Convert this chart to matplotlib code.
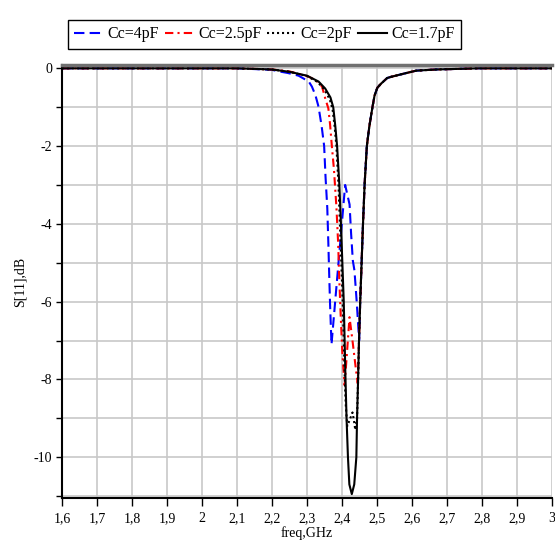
import numpy as np
import matplotlib
matplotlib.use("Agg")
import matplotlib.pyplot as plt
from matplotlib.ticker import MultipleLocator, FixedLocator

# S11 curves (freq in GHz, value in dB)
f_4pF = [1.6, 2.10, 2.20, 2.22, 2.245, 2.276, 2.305, 2.314, 2.324, 2.333, 2.342, 2.349,
         2.353, 2.358, 2.361, 2.3636, 2.366, 2.370, 2.409, 2.4216, 2.426, 2.431,
         2.4356, 2.442, 2.449, 2.452, 2.456, 2.460, 2.4645, 2.471, 2.478, 2.487,
         2.493, 2.501, 2.511, 2.529, 2.54, 2.58, 2.612, 2.67, 2.79, 3.0]
s_4pF = [0, 0, -0.04, -0.08, -0.12, -0.19, -0.34, -0.47, -0.69, -0.99, -1.5, -2.0,
         -2.8, -3.6, -4.5, -5.36, -6.1, -7.1, -3.0, -3.5, -4.25, -4.95,
         -5.2, -6.0, -7.0, -6.0, -5.0, -4.0, -3.0, -2.0, -1.5, -1.0,
         -0.7, -0.5, -0.4, -0.25, -0.22, -0.13, -0.06, -0.03, 0, 0]

f_2p5pF = [1.6, 2.10, 2.20, 2.25, 2.30, 2.325, 2.343, 2.352, 2.361, 2.366, 2.371, 2.377,
           2.384, 2.389, 2.392, 2.396, 2.401, 2.4075, 2.4215, 2.431, 2.44, 2.445,
           2.4486, 2.452, 2.456, 2.460, 2.4645, 2.471, 2.478, 2.487, 2.493, 2.501,
           2.511, 2.529, 2.54, 2.58, 2.612, 2.67, 2.79, 3.0]
s_2p5pF = [0, 0, -0.03, -0.08, -0.2, -0.3, -0.47, -0.77, -1.03, -1.45, -2.0, -2.6,
           -3.56, -4.5, -5.36, -6.3, -7.33, -8.15, -6.4, -7.08, -7.76, -8.1,
           -7.0, -6.0, -5.0, -4.0, -3.0, -2.0, -1.5, -1.0, -0.7, -0.5,
           -0.4, -0.25, -0.22, -0.13, -0.06, -0.03, 0, 0]

f_2pF = [1.6, 2.10, 2.20, 2.25, 2.30, 2.33, 2.35, 2.365, 2.373, 2.379, 2.384, 2.390,
         2.394, 2.398, 2.402, 2.405, 2.408, 2.411, 2.415, 2.4216, 2.430, 2.434,
         2.438, 2.443, 2.446, 2.4486, 2.452, 2.456, 2.460, 2.4645, 2.471, 2.478,
         2.487, 2.493, 2.501, 2.511, 2.529, 2.54, 2.58, 2.612, 2.67, 2.79, 3.0]
s_2pF = [0, 0, -0.03, -0.09, -0.2, -0.35, -0.55, -0.8, -1.05, -1.5, -2.0, -3.0,
         -4.0, -5.0, -6.0, -7.0, -8.0, -8.7, -9.2, -9.05, -8.85, -9.05,
         -9.3, -9.0, -8.0, -7.0, -6.0, -5.0, -4.0, -3.0, -2.0, -1.5,
         -1.0, -0.7, -0.5, -0.4, -0.25, -0.22, -0.13, -0.06, -0.03, 0, 0]

f_1p7pF = [1.6, 2.10, 2.20, 2.25, 2.30, 2.333, 2.352, 2.367, 2.375, 2.381, 2.386, 2.3925,
           2.397, 2.401, 2.405, 2.4075, 2.410, 2.413, 2.417, 2.421, 2.428, 2.435,
           2.441, 2.443, 2.446, 2.4486, 2.452, 2.456, 2.460, 2.4645, 2.471, 2.478,
           2.487, 2.493, 2.501, 2.511, 2.529, 2.54, 2.58, 2.612, 2.67, 2.79, 3.0]
s_1p7pF = [0, 0, -0.03, -0.09, -0.19, -0.34, -0.52, -0.75, -1.0, -1.5, -2.0, -3.0,
           -4.0, -5.0, -6.0, -7.0, -8.0, -9.0, -10.0, -10.7, -10.95, -10.7,
           -10.0, -9.0, -8.0, -7.0, -6.0, -5.0, -4.0, -3.0, -2.0, -1.5,
           -1.0, -0.7, -0.5, -0.4, -0.25, -0.22, -0.13, -0.06, -0.03, 0, 0]

labels = ["Cc=4pF", "Cc=2.5pF", "Cc=2pF", "Cc=1.7pF"]
x_ticks = [1.6, 1.7, 1.8, 1.9, 2.0, 2.1, 2.2, 2.3, 2.4, 2.5, 2.6, 2.7, 2.8, 2.9, 3.0]
x_ticklabels = ["1,6", "1,7", "1,8", "1,9", "2", "2,1", "2,2", "2,3", "2,4",
                "2,5", "2,6", "2,7", "2,8", "2,9", "3"]
y_ticks = [0, -2, -4, -6, -8, -10]

plt.rcParams['font.family'] = ['Liberation Serif', 'DejaVu Serif']

fig = plt.figure(figsize=(5.55, 5.45), dpi=100)
ax = fig.add_axes([62/555, 1 - 498/545, (552 - 62)/555, (498 - 65)/545])

ax.plot(f_4pF, s_4pF, color="#0000ff", lw=1.5, dashes=[5, 2.5], label=labels[0])
ax.plot(f_2p5pF, s_2p5pF, color="#ff0000", lw=1.5, dashes=[4, 2, 1, 2], label=labels[1])
ax.plot(f_2pF, s_2pF, color="black", lw=1.5, dashes=[1, 1.4], label=labels[2])
ax.plot(f_1p7pF, s_1p7pF, color="black", lw=1.5, label=labels[3])

ax.set_xlim(1.6, 3.0)
ax.set_ylim(-11.05, 0.085)

ax.xaxis.set_major_locator(FixedLocator(x_ticks))
ax.set_xticklabels(x_ticklabels, fontsize=10)
ax.yaxis.set_major_locator(FixedLocator(y_ticks))
ax.yaxis.set_minor_locator(MultipleLocator(1))
ax.set_yticklabels([f"{v:g}" for v in y_ticks], fontsize=10)

ax.grid(which="both", color="#c8c8c8", lw=1.2)
ax.set_axisbelow(True)
ax.tick_params(axis="x", direction="out", length=6, width=1, pad=4)
ax.tick_params(axis="y", which="both", direction="out", length=4, width=1, pad=3)

for s in ["left", "bottom"]:
    ax.spines[s].set_linewidth(1.5)
    ax.spines[s].set_color("black")
ax.spines["top"].set_color("#707070")
ax.spines["top"].set_linewidth(2.5)
ax.spines["right"].set_visible(False)

ax.set_xlabel("freq,GHz", fontsize=10, labelpad=1)
ax.set_ylabel("S[11],dB", fontsize=10, labelpad=5)

leg = fig.legend(loc="center", bbox_to_anchor=(264.5/555, 1 - 34.5/545), ncol=4,
                 fontsize=11.5, handlelength=1.8, handletextpad=0.3,
                 columnspacing=0.35, borderpad=0.4, fancybox=False, framealpha=1)
leg.get_frame().set_edgecolor("black")
leg.get_frame().set_linewidth(1.0)

plt.savefig("out.png", dpi=100)
